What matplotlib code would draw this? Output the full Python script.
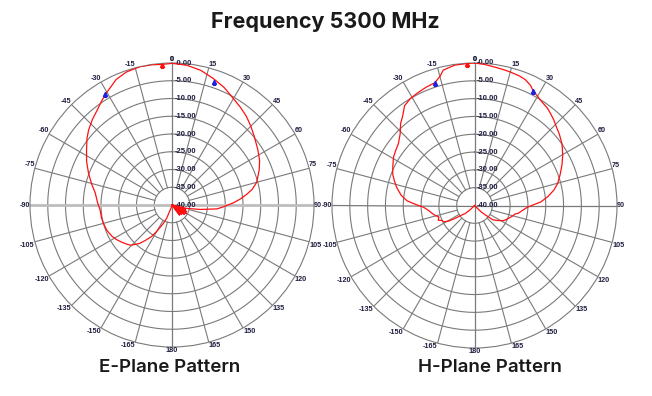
import numpy as np
import matplotlib
matplotlib.use("Agg")
import matplotlib.pyplot as plt

# Measured antenna pattern, 5300 MHz (angle in degrees, level in dB)
e_angles = [-180, -170, -162, -158, -155, -150, -147, -143, -140, -137, -134, -130, -126, -122,
            -118, -114, -111, -105, -100, -94, -88, -81, -75, -69, -63, -57, -52, -48, -43, -38,
            -34, -31, -27, -24, -19, -13, -8, -4, 0, 6, 12, 18, 24, 30, 35, 40, 45, 50, 57, 63,
            68, 75, 79, 82, 85, 88, 92, 95, 99, 103, 105, 108, 111, 114, 117, 120, 123, 127, 131,
            135, 139, 143, 147, 180]
e_db = [-40, -40, -39, -36, -34.3, -31.5, -29.4, -27.5, -25.9, -24.8, -23.7, -23.0, -22.3, -21.6,
        -21.0, -20.6, -20.3, -20.0, -19.8, -19.7, -19.0, -18.1, -16.5, -14.8, -13.0, -11.3, -9.6,
        -8.4, -7.1, -5.9, -4.6, -3.6, -2.4, -1.3, -0.4, 0.0, -0.1, -0.3, -0.1, -0.4, -1.2, -2.5,
        -3.8, -5.4, -6.4, -7.4, -8.6, -9.8, -11.2, -12.3, -13.5, -15.3, -17.0, -18.8, -20.7,
        -22.7, -25.5, -27.3, -32.0, -35.8, -40, -36.0, -40, -35.5, -40, -35.3, -40, -35.6, -40,
        -36.2, -40, -36.5, -40, -40]

h_angles = [-180, -140, -135, -131, -128, -125, -123, -121, -118, -115, -112, -108, -104, -100,
            -96, -92, -89, -86, -82, -77, -73, -69, -64, -59, -55, -51, -46, -42, -39, -35, -31,
            -27, -22, -18, -15, -13, -8, -3, 0, 4, 8, 12, 15, 19, 22, 25, 27, 30, 32, 37, 40, 43,
            46, 50, 55, 60, 65, 70, 75, 79, 83, 87, 90, 92, 96, 100, 102, 106, 110, 114, 117, 120,
            124, 128, 131, 134, 138, 180]
h_db = [-40, -40, -38.5, -36.5, -36.0, -34.5, -33.0, -31.5, -30.2, -30.0, -29.0, -29.5, -28.6,
        -27.8, -27.0, -25.7, -23.5, -21.0, -19.2, -17.6, -16.5, -15.4, -14.5, -13.5, -13.0, -12.5,
        -11.0, -9.0, -7.9, -5.8, -5.0, -4.6, -4.1, -3.8, -2.5, -1.0, -0.2, -0.1, 0.0, -0.3, -0.7,
        -1.0, -1.2, -1.5, -1.9, -2.8, -3.8, -4.6, -5.1, -5.9, -6.6, -7.3, -8.1, -8.9, -10.0,
        -11.4, -12.9, -14.4, -15.8, -17.3, -19.2, -21.4, -24.0, -25.2, -26.5, -27.5, -28.4,
        -29.0, -29.7, -30.3, -30.7, -31.5, -32.5, -33.5, -36.0, -37.5, -40, -40]

# peak marker and the two -3 dB markers for each plane
e_peak = (-4, -0.5)
e_half = [(-31, -3.6), (19, -3.5)]
h_peak = (-3, -0.3)
h_half = [(-18, -3.8), (27, -3.8)]

ring_levels = [-35, -30, -25, -20, -15, -10, -5]
ring_labels = ["-0.00", "-5.00", "-10.00", "-15.00", "-20.00", "-25.00", "-30.00", "-35.00", "-40.00"]
spoke_angles = list(range(-165, 181, 15))

grid_col = "#7a7a7a"
text_col = "#1e1e40"


def setup_polar(ax, thick_axis):
    ax.set_theta_zero_location("N")
    ax.set_theta_direction(-1)
    ax.set_ylim(-40, 0)
    ax.set_xticks([])
    ax.set_yticks([])
    ax.grid(False)
    ax.spines["polar"].set_color(grid_col)
    ax.spines["polar"].set_linewidth(0.8)

    full = np.linspace(0, 2 * np.pi, 361)
    for lvl in ring_levels:
        ax.plot(full, np.full_like(full, lvl), color=grid_col, lw=0.8, zorder=1)

    # spokes start at the -35 ring, except the two main axes
    for a in spoke_angles:
        if a in (0, 180, 90, -90):
            continue
        t = np.deg2rad(a)
        ax.plot([t, t], [-35, 0], color=grid_col, lw=0.8, zorder=1)
    ax.plot([0, 0], [-40, 0], color=grid_col, lw=0.9, zorder=1)
    ax.plot([np.pi, np.pi], [-40, 0], color=grid_col, lw=0.9, zorder=1)
    if thick_axis:
        hcol, hlw = "#bdbdbd", 2.0
    else:
        hcol, hlw = grid_col, 0.9
    ax.plot([np.pi / 2, np.pi / 2], [-40, 0], color=hcol, lw=hlw, zorder=1)
    ax.plot([-np.pi / 2, -np.pi / 2], [-40, 0], color=hcol, lw=hlw, zorder=1)

    # angle labels sit on the outer ring, pushed outward by their corner
    for a in [0] + spoke_angles:
        lab = str(a)
        t = np.deg2rad(a)
        s, c = np.sin(t), np.cos(t)
        if abs(s) < 0.01:
            ha = "center"
        elif s > 0:
            ha = "left"
        else:
            ha = "right"
        if abs(c) < 0.01:
            va = "center"
        elif c > 0:
            va = "bottom"
        else:
            va = "top"
        k = 1.0
        ax.text(0.5 + 0.5 * k * s, 0.5 + 0.5 * k * c, lab,
                transform=ax.transAxes, ha=ha, va=va,
                fontsize=5.2, color=text_col, family="Liberation Sans", fontweight="bold")

    # level labels along the 0 deg axis
    for i, lab in enumerate(ring_labels):
        y = 0.5 + 0.5 * (40 - 5 * i) / 40
        ax.text(0.508, y, lab, transform=ax.transAxes, ha="left", va="center",
                fontsize=5.5, color=text_col, family="Liberation Sans", fontweight="bold")


def draw_pattern(ax, angles, db, peak, half):
    t = np.deg2rad(angles)
    r = np.maximum(np.array(db), -40)
    ax.plot(t, r, color="#ff1010", lw=0.9, zorder=3)
    ax.plot(np.deg2rad(peak[0]), peak[1], marker="^", color="#ff1010", ms=3, zorder=4)
    for a, d in half:
        ax.plot(np.deg2rad(a), d, marker="^", color="#2020e0", ms=3, zorder=4)


fig = plt.figure(figsize=(6.52, 3.96), dpi=100)

ax1 = fig.add_axes([30 / 652, 49 / 396, 284 / 652, 284 / 396], projection="polar")
setup_polar(ax1, True)
draw_pattern(ax1, e_angles, e_db, e_peak, e_half)

ax2 = fig.add_axes([332 / 652, 48 / 396, 285 / 652, 285 / 396], projection="polar")
setup_polar(ax2, False)
draw_pattern(ax2, h_angles, h_db, h_peak, h_half)

fig.text(325 / 652, 1 - 22 / 396, "Frequency 5300 MHz", ha="center", va="center",
         fontsize=15.5, fontweight="bold", family="Inter", color="#1a1a1a")
fig.text(170 / 652, 1 - 368 / 396, "E-Plane Pattern", ha="center", va="center",
         fontsize=13.5, fontweight="semibold", family="Inter", color="#1a1a1a")
fig.text(490 / 652, 1 - 368 / 396, "H-Plane Pattern", ha="center", va="center",
         fontsize=13.5, fontweight="semibold", family="Inter", color="#1a1a1a")

fig.savefig("out.png", dpi=100)
